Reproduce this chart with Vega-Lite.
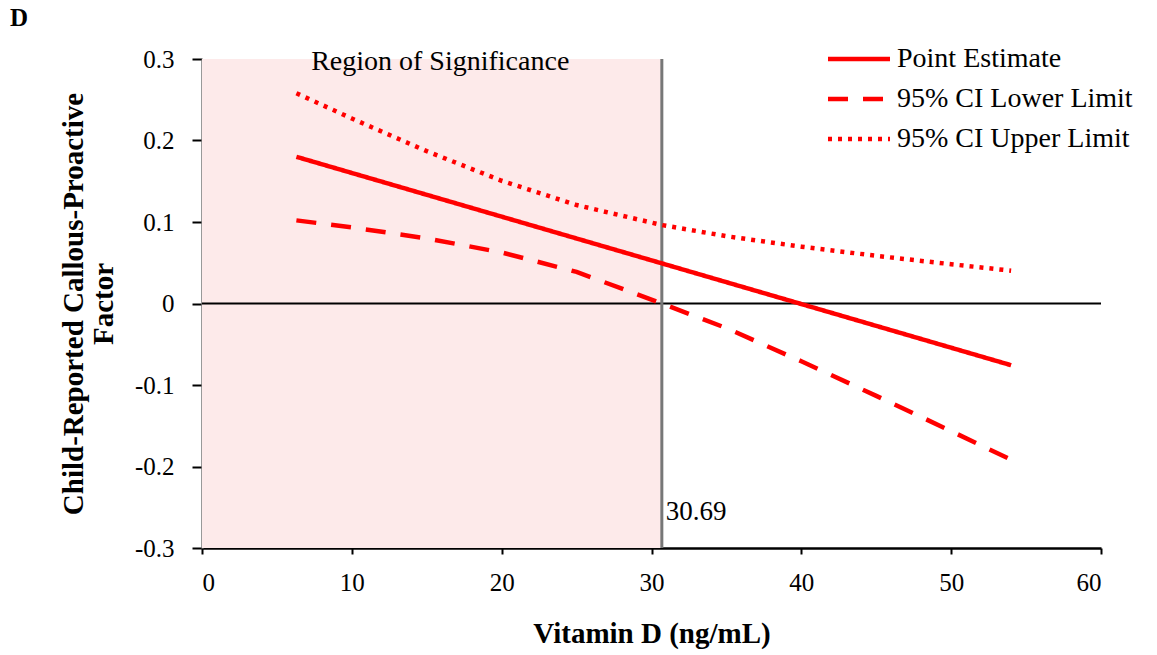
{
  "$schema": "https://vega.github.io/schema/vega-lite/v6.json",
  "width": 899,
  "height": 489,
  "autosize": {"type": "none"},
  "padding": {"left": 202, "top": 59, "right": 56, "bottom": 107},
  "background": "white",
  "title": {"text": "D", "anchor": "start", "frame": "group", "dx": -192, "offset": 14, "font": "Liberation Serif", "fontSize": 25, "fontWeight": "bold", "color": "#000000"},
  "config": {
    "view": {"stroke": null},
    "font": "Liberation Serif",
    "axis": {"grid": false, "labelFont": "Liberation Serif", "titleFont": "Liberation Serif", "labelColor": "#000000", "titleColor": "#000000", "labelFontSize": 25, "titleFontSize": 29, "titleFontWeight": "bold"}
  },
  "datasets": {
    "curves": [
      {"x": 6.3, "y": 0.180, "series": "Point Estimate"},
      {"x": 54, "y": -0.0757, "series": "Point Estimate"},
      {"x": 6.3, "y": 0.102, "series": "95% CI Lower Limit"},
      {"x": 10, "y": 0.0934, "series": "95% CI Lower Limit"},
      {"x": 15, "y": 0.0799, "series": "95% CI Lower Limit"},
      {"x": 20, "y": 0.0626, "series": "95% CI Lower Limit"},
      {"x": 25, "y": 0.0388, "series": "95% CI Lower Limit"},
      {"x": 30.69, "y": 0.0, "series": "95% CI Lower Limit"},
      {"x": 35, "y": -0.0302, "series": "95% CI Lower Limit"},
      {"x": 40, "y": -0.0709, "series": "95% CI Lower Limit"},
      {"x": 45, "y": -0.1133, "series": "95% CI Lower Limit"},
      {"x": 50, "y": -0.1566, "series": "95% CI Lower Limit"},
      {"x": 54, "y": -0.1917, "series": "95% CI Lower Limit"},
      {"x": 6.3, "y": 0.258, "series": "95% CI Upper Limit"},
      {"x": 10, "y": 0.227, "series": "95% CI Upper Limit"},
      {"x": 15, "y": 0.1869, "series": "95% CI Upper Limit"},
      {"x": 20, "y": 0.1506, "series": "95% CI Upper Limit"},
      {"x": 25, "y": 0.1208, "series": "95% CI Upper Limit"},
      {"x": 30.69, "y": 0.0963, "series": "95% CI Upper Limit"},
      {"x": 35, "y": 0.0826, "series": "95% CI Upper Limit"},
      {"x": 40, "y": 0.0697, "series": "95% CI Upper Limit"},
      {"x": 45, "y": 0.0585, "series": "95% CI Upper Limit"},
      {"x": 50, "y": 0.0482, "series": "95% CI Upper Limit"},
      {"x": 54, "y": 0.0403, "series": "95% CI Upper Limit"}
    ],
    "region": [{"start": 0, "end": 30.69, "label": "Region of Significance", "mid": 15.9, "top": 0.3, "cut": 30.69, "cutLabel": "30.69", "labelY": -0.256}]
  },
  "layer": [
    {
      "data": {"name": "region"},
      "mark": {"type": "rect", "color": "#fdeaea"},
      "encoding": {
        "x": {"field": "start", "type": "quantitative", "scale": {"domain": [0, 60], "nice": false}, "axis": {"values": [0, 10, 20, 30, 40, 50, 60], "title": "Vitamin D (ng/mL)", "domainColor": "#000000", "domainWidth": 2.5, "tickColor": "#000000", "tickWidth": 2, "tickSize": 6, "labelPadding": 16, "titlePadding": 24}},
        "x2": {"field": "end"}
      }
    },
    {
      "data": {"values": [{"v": 0}]},
      "mark": {"type": "rule", "color": "#000000", "strokeWidth": 1.8},
      "encoding": {
        "y": {"field": "v", "type": "quantitative"},
        "x": {"datum": 0, "type": "quantitative"},
        "x2": {"datum": 60}
      }
    },
    {
      "data": {"name": "region"},
      "mark": {"type": "rule", "color": "#777777", "strokeWidth": 3},
      "encoding": {
        "x": {"field": "cut", "type": "quantitative"}
      }
    },
    {
      "data": {"name": "curves"},
      "mark": {"type": "line", "color": "#ff0000", "strokeWidth": 4.5},
      "encoding": {
        "x": {"field": "x", "type": "quantitative"},
        "y": {"field": "y", "type": "quantitative", "scale": {"domain": [-0.3, 0.3], "nice": false}, "axis": {"values": [-0.3, -0.2, -0.1, 0, 0.1, 0.2, 0.3], "labelExpr": "datum.value == 0 ? '0' : replace(format(datum.value, '.1f'), '\u2212', '-')", "title": ["Child-Reported Callous-Proactive", "Factor"], "titleLineHeight": 30, "domainColor": "#777777", "domainWidth": 2.5, "tickColor": "#000000", "tickWidth": 2, "tickSize": 10, "labelPadding": 18, "titlePadding": 16}},
        "detail": {"field": "series"},
        "strokeDash": {
          "field": "series", "type": "nominal",
          "scale": {"domain": ["Point Estimate", "95% CI Lower Limit", "95% CI Upper Limit"], "range": [[1, 0], [20, 15], [4, 6]]},
          "legend": {"title": null, "orient": "none", "legendX": 643, "legendY": -14, "symbolType": "M-3,0H3", "symbolSize": 427, "symbolStrokeWidth": 4.5, "symbolStrokeColor": "#ff0000", "symbolFillColor": "transparent", "labelFont": "Liberation Serif", "labelFontSize": 28, "labelColor": "#000000", "labelLimit": 0, "rowPadding": 12, "labelOffset": 24}
        }
      }
    },
    {
      "data": {"name": "region"},
      "mark": {"type": "text", "font": "Liberation Serif", "fontSize": 28, "baseline": "alphabetic", "align": "center", "dy": 11, "color": "#000000"},
      "encoding": {
        "x": {"field": "mid", "type": "quantitative"},
        "y": {"field": "top", "type": "quantitative"},
        "text": {"field": "label"}
      }
    },
    {
      "data": {"name": "region"},
      "mark": {"type": "text", "font": "Liberation Serif", "fontSize": 27, "baseline": "middle", "align": "left", "dx": 4, "color": "#000000"},
      "encoding": {
        "x": {"field": "cut", "type": "quantitative"},
        "y": {"field": "labelY", "type": "quantitative"},
        "text": {"field": "cutLabel"}
      }
    }
  ]
}
